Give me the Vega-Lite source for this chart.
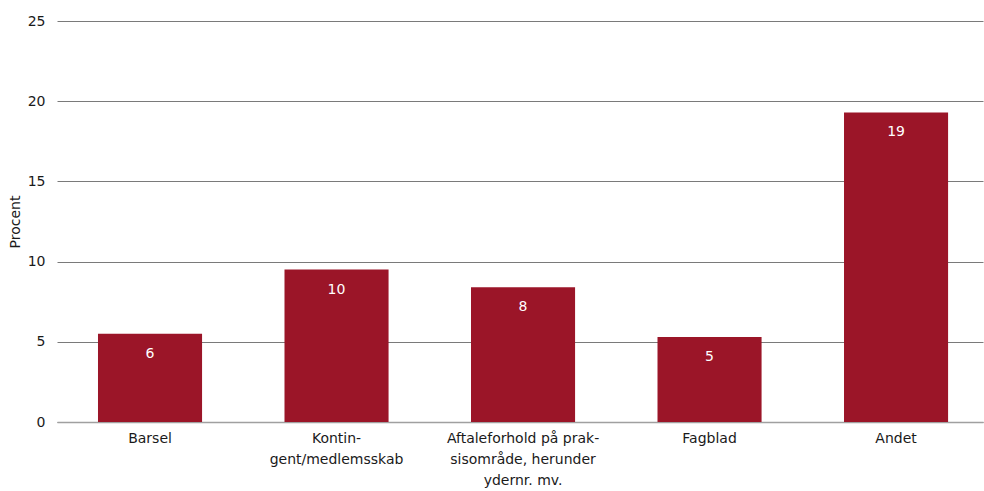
{
  "$schema": "https://vega.github.io/schema/vega-lite/v6.json",
  "width": 984,
  "height": 491,
  "autosize": {"type": "fit", "contains": "padding"},
  "padding": {"left": 8, "top": 14, "right": 1, "bottom": 4},
  "background": "white",
  "config": {
    "view": {"stroke": null},
    "font": "DejaVu Sans",
    "axis": {"labelFont": "DejaVu Sans", "titleFont": "DejaVu Sans", "labelColor": "#1a1a1a", "titleColor": "#1a1a1a", "labelFontSize": 14, "titleFontSize": 14, "titleFontWeight": "normal"}
  },
  "data": {
    "values": [
      {"kategori": "Barsel", "procent": 5.5},
      {"kategori": "Kontin-|gent/medlemsskab", "procent": 9.5},
      {"kategori": "Aftaleforhold på prak-|sisområde, herunder|ydernr. mv.", "procent": 8.4},
      {"kategori": "Fagblad", "procent": 5.3},
      {"kategori": "Andet", "procent": 19.3}
    ]
  },
  "encoding": {
    "x": {
      "field": "kategori",
      "type": "nominal",
      "sort": null,
      "scale": {"paddingInner": 0.442, "paddingOuter": 0.2035, "align": 0.54},
      "axis": {
        "title": null,
        "labelAngle": 0,
        "labelExpr": "split(datum.label, '|')",
        "labelLimit": 300,
        "ticks": false,
        "domainColor": "#a0a0a0",
        "domainWidth": 1.5,
        "labelPadding": 9,
        "labelLineHeight": 21
      }
    },
    "y": {
      "field": "procent",
      "type": "quantitative",
      "scale": {"domain": [0, 25]},
      "axis": {
        "title": "Procent",
        "values": [0, 5, 10, 15, 20, 25],
        "domain": false,
        "ticks": false,
        "gridColor": "#7a7a7a",
        "gridWidth": 1,
        "labelPadding": 12,
        "titlePadding": 5
      }
    }
  },
  "layer": [
    {"mark": {"type": "bar", "color": "#9b1528"}},
    {
      "mark": {"type": "text", "color": "white", "baseline": "middle", "dy": 20, "fontSize": 14, "font": "DejaVu Sans"},
      "encoding": {"text": {"field": "procent", "type": "quantitative", "format": ".0f"}}
    }
  ]
}
